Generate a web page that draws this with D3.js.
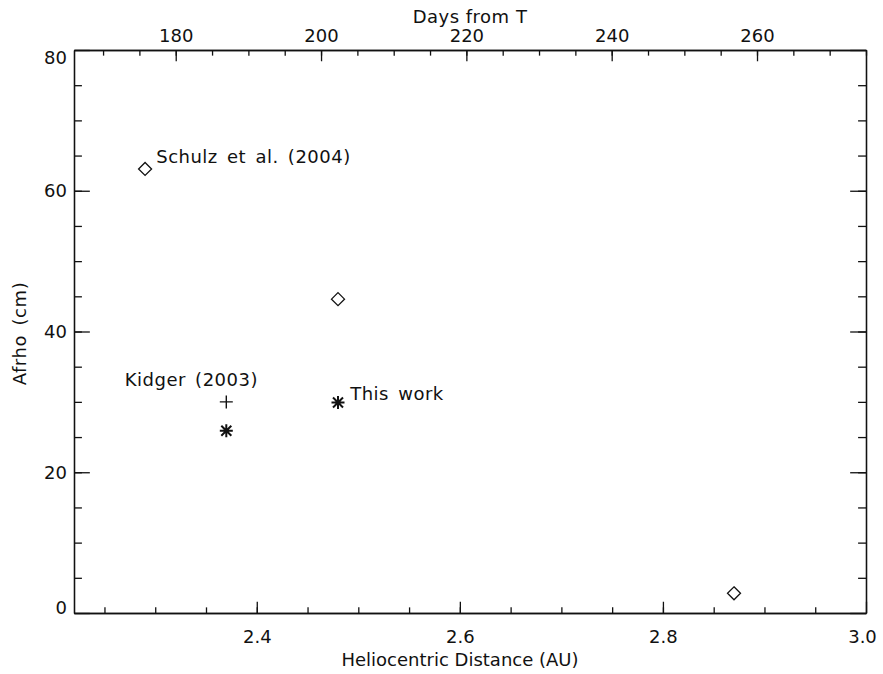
<!DOCTYPE html>
<html>
<head>
<meta charset="utf-8">
<script src="https://cdn.jsdelivr.net/npm/d3@7"></script>
<style>
  body { margin: 0; background: #fff; }
  text { font-family: "DejaVu Sans", sans-serif; fill: #111; }
  .axis path, .axis line { stroke: #111; stroke-width: 1.3; }
  .axis text { font-size: 18px; }
  .label { font-size: 18px; letter-spacing: 0.5px; word-spacing: 3px; }
</style>
</head>
<body>
<div id="chart"></div>
<script>
// Data
const schulzR = [2.29, 2.48, 2.87]
const schulzAfrho = [63.1, 44.6, 2.8]
const kidgerR = [2.37]
const kidgerAfrho = [30.0]
const thisWorkR = [2.37, 2.48]
const thisWorkAfrho = [25.9, 29.9]

const labelText = ['Schulz et al. (2004)', 'Kidger (2003)', 'This work']
const labelR = [2.301, 2.270, 2.492]
const labelAfrho = [63.9, 32.2, 30.3]

const xMajor = [2.4, 2.6, 2.8, 3.0]
const xMinor = d3.range(2.25, 3.0, 0.05)
const dayMajor = [180, 200, 220, 240, 260]
const dayMinor = d3.range(170, 276, 5)
const yMajor = [0, 20, 40, 60, 80]
const yMinor = d3.range(5, 80, 5)

// Dimensions
let dims = {
    width: 883,
    height: 674,
    margin: { top: 50, bottom: 61, right: 17, left: 74 }
}
dims.ctrWidth = dims.width - dims.margin.left - dims.margin.right
dims.ctrHeight = dims.height - dims.margin.top - dims.margin.bottom

// Scales
const xScale = d3.scaleLinear().domain([2.22, 3.0]).range([0, dims.ctrWidth])
const dayScale = d3.scaleLinear().domain([166, 275]).range([0, dims.ctrWidth])
const yScale = d3.scaleLinear().domain([0, 80]).range([dims.ctrHeight, 0])

const xTick = 0.02 * dims.ctrHeight
const yTick = 0.02 * dims.ctrWidth

const svg = d3.select('#chart')
    .append('svg')
    .attr('width', dims.width)
    .attr('height', dims.height)

svg.append('rect').attr('width', dims.width).attr('height', dims.height).attr('fill', '#fff')

const ctr = svg.append('g')
    .attr('transform', `translate(${dims.margin.left}, ${dims.margin.top})`)

// Axes
function addAxis(axis, transform, withLabels) {
    const g = ctr.append('g').classed('axis', true).attr('transform', transform).call(axis)
    if (!withLabels) g.selectAll('text').remove()
    return g
}

// bottom
addAxis(d3.axisBottom(xScale).tickValues(xMinor).tickSize(-xTick / 2).tickSizeOuter(0).tickFormat(''),
    `translate(0, ${dims.ctrHeight})`, false)
const bottomAxis = addAxis(d3.axisBottom(xScale).tickValues(xMajor).tickSize(-xTick).tickSizeOuter(0)
    .tickPadding(17).tickFormat(d3.format('.1f')), `translate(0, ${dims.ctrHeight})`, true)
bottomAxis.selectAll('.tick text').filter(d => d === 3.0).attr('dx', -4)

// top
addAxis(d3.axisTop(dayScale).tickValues(dayMinor).tickSize(-xTick / 2).tickSizeOuter(0).tickFormat(''),
    'translate(0,0)', false)
addAxis(d3.axisTop(dayScale).tickValues(dayMajor).tickSize(-xTick).tickSizeOuter(0)
    .tickPadding(8).tickFormat(d3.format('d')), 'translate(0,0)', true)

// left
addAxis(d3.axisLeft(yScale).tickValues(yMinor).tickSize(-yTick / 2).tickSizeOuter(0).tickFormat(''),
    'translate(0,0)', false)
const leftAxis = addAxis(d3.axisLeft(yScale).tickValues(yMajor).tickSize(-yTick).tickSizeOuter(0)
    .tickPadding(7).tickFormat(d3.format('d')), 'translate(0,0)', true)
// end labels sit a little inside the frame
leftAxis.selectAll('.tick text')
    .attr('dy', d => d === 80 ? '0.75em' : d === 0 ? '0em' : '0.32em')

// right
addAxis(d3.axisRight(yScale).tickValues(yMinor).tickSize(-yTick / 2).tickSizeOuter(0).tickFormat(''),
    `translate(${dims.ctrWidth},0)`, false)
addAxis(d3.axisRight(yScale).tickValues(yMajor).tickSize(-yTick).tickSizeOuter(0).tickFormat(''),
    `translate(${dims.ctrWidth},0)`, false)

// Titles
svg.append('text')
    .text('Days from T')
    .attr('x', dims.margin.left + dims.ctrWidth / 2)
    .attr('y', 23)
    .attr('text-anchor', 'middle')
    .style('font-size', '18px')
    .style('letter-spacing', '0.5px')

svg.append('text')
    .text('Heliocentric Distance (AU)')
    .attr('x', dims.margin.left + dims.ctrWidth / 2 - 10)
    .attr('y', 666)
    .attr('text-anchor', 'middle')
    .style('font-size', '18px')

svg.append('text')
    .text('Afrho (cm)')
    .attr('transform', `translate(26, ${dims.margin.top + dims.ctrHeight / 2 + 2}) rotate(-90)`)
    .attr('text-anchor', 'middle')
    .style('font-size', '18px')
    .style('letter-spacing', '0.6px')
    .style('word-spacing', '3px')

// Markers
const diamond = 'M0,-6.5L6.5,0L0,6.5L-6.5,0Z'
const plus = 'M-6.5,0H6.5M0,-6.5V6.5'
const asterisk = 'M-6.5,0H6.5M0,-6.5V6.5M-5,-5L5,5M-5,5L5,-5'

function drawMarks(rs, vals, path, width) {
    ctr.append('g').selectAll('path')
        .data(d3.zip(rs, vals))
        .join('path')
        .attr('d', path)
        .attr('transform', d => `translate(${xScale(d[0])}, ${yScale(d[1])})`)
        .attr('fill', 'none')
        .attr('stroke', '#111')
        .attr('stroke-width', width)
}
drawMarks(schulzR, schulzAfrho, diamond, 1.3)
drawMarks(kidgerR, kidgerAfrho, plus, 1.4)
drawMarks(thisWorkR, thisWorkAfrho, asterisk, 2)

// Labels
ctr.append('g').selectAll('text')
    .data(d3.zip(labelText, labelR, labelAfrho))
    .join('text')
    .classed('label', true)
    .text(d => d[0])
    .attr('x', d => xScale(d[1]))
    .attr('y', d => yScale(d[2]))
</script>
</body>
</html>
